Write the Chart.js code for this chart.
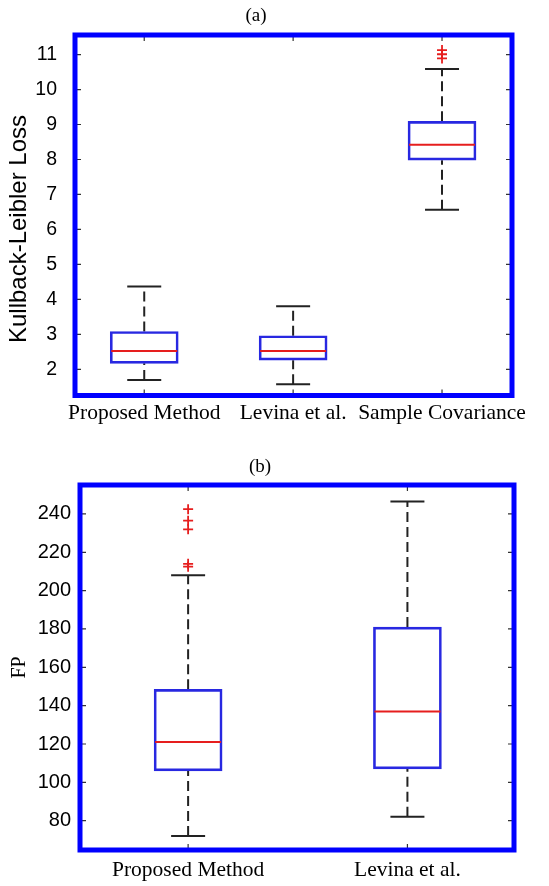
<!DOCTYPE html>
<html>
<head>
<meta charset="utf-8">
<script src="https://cdn.jsdelivr.net/npm/chart.js@4.4.1/dist/chart.umd.min.js"></script>
<style>
  body { margin: 0; background: #fff; }
  canvas { position: absolute; left: 0; }
</style>
</head>
<body>
<canvas id="chartA" width="549" height="440" style="top:0"></canvas>
<canvas id="chartB" width="549" height="446" style="top:440px"></canvas>
<script>
// (a) Kullback-Leibler loss
const klCategories = ['Proposed Method', 'Levina et al.', 'Sample Covariance'];
const klLow = [1.69, 1.57, 6.56];
const klQ1 = [2.17, 2.26, 7.98];
const klMedian = [2.52, 2.52, 8.42];
const klQ3 = [3.08, 2.96, 9.09];
const klHigh = [4.37, 3.80, 10.59];
const klOutliers = [[], [], [11.13, 11.01, 10.89]];
const klTicks = [2, 3, 4, 5, 6, 7, 8, 9, 10, 11];

// (b) false positives
const fpCategories = ['Proposed Method', 'Levina et al.'];
const fpLow = [72, 82];
const fpQ1 = [106, 107];
const fpMedian = [121, 137];
const fpQ3 = [148.5, 181];
const fpHigh = [208, 246.5];
const fpOutliers = [[242.5, 236.5, 232, 214, 212.5], []];
const fpTicks = [80, 100, 120, 140, 160, 180, 200, 220, 240];

const BOX_BLUE = 'rgb(40,40,225)';
const MED_RED = 'rgb(230,30,30)';
const WHISKER = '#222';

// frame, inner tick marks and y title, MATLAB style
const matlabFrame = {
    id: 'matlabFrame',
    afterDraw(chart, args, opts) {
        const {ctx, chartArea: a, scales} = chart;
        ctx.save();
        ctx.strokeStyle = '#333';
        ctx.lineWidth = 1.2;
        ctx.beginPath();
        scales.y.ticks.forEach(t => {
            const py = scales.y.getPixelForValue(t.value);
            ctx.moveTo(a.left, py); ctx.lineTo(a.left + 6, py);
            ctx.moveTo(a.right, py); ctx.lineTo(a.right - 6, py);
        });
        scales.x.ticks.forEach(t => {
            const px = scales.x.getPixelForValue(t.value);
            ctx.moveTo(px, a.top); ctx.lineTo(px, a.top + 6);
            ctx.moveTo(px, a.bottom); ctx.lineTo(px, a.bottom - 6);
        });
        ctx.stroke();

        ctx.strokeStyle = '#0000ff';
        ctx.lineWidth = 5;
        ctx.strokeRect(a.left, a.top, a.width, a.height);

        ctx.translate(opts.titleX, (a.top + a.bottom) / 2 + opts.titleShift);
        ctx.rotate(-Math.PI / 2);
        ctx.font = opts.font;
        ctx.fillStyle = '#000';
        ctx.textAlign = 'center';
        ctx.textBaseline = 'middle';
        ctx.fillText(opts.title, 0, 0);
        ctx.restore();
    }
};

function boxDatasets(low, q1, med, q3, high, outliers) {
    const ds = [];
    ds.push({
        type: 'bar',
        data: q1.map((v, i) => ({x: i + 1, y: [v, q3[i]]})),
        backgroundColor: 'rgba(0,0,0,0)',
        borderColor: BOX_BLUE,
        borderWidth: 2,
        borderSkipped: false,
        barThickness: 68,
        order: 1
    });
    q1.forEach((v, i) => {
        const whisker = {
            type: 'scatter',
            showLine: true,
            borderColor: WHISKER,
            borderWidth: 2,
            borderDash: [10, 5],
            pointRadius: 0,
            order: 2
        };
        ds.push(Object.assign({}, whisker, {data: [{x: i + 1, y: q3[i]}, {x: i + 1, y: high[i]}]}));
        ds.push(Object.assign({}, whisker, {data: [{x: i + 1, y: low[i]}, {x: i + 1, y: v}]}));
    });
    ds.push({
        type: 'scatter',
        data: high.map((v, i) => ({x: i + 1, y: v})).concat(low.map((v, i) => ({x: i + 1, y: v}))),
        pointStyle: 'line',
        pointRadius: 17,
        pointBorderColor: WHISKER,
        pointBorderWidth: 2,
        order: 0
    });
    ds.push({
        type: 'scatter',
        data: med.map((v, i) => ({x: i + 1, y: v})),
        pointStyle: 'line',
        pointRadius: 33,
        pointBorderColor: MED_RED,
        pointBorderWidth: 2,
        order: 0
    });
    ds.push({
        type: 'scatter',
        data: outliers.flatMap((arr, i) => arr.map(v => ({x: i + 1, y: v}))),
        pointStyle: 'cross',
        pointRadius: 5,
        pointBorderColor: MED_RED,
        pointBorderWidth: 1.8,
        order: 0
    });
    return ds;
}

function makeBoxChart(id, s) {
    const ctx = document.getElementById(id).getContext('2d');
    return new Chart(ctx, {
        type: 'scatter',
        data: {datasets: boxDatasets(s.low, s.q1, s.med, s.q3, s.high, s.outliers)},
        plugins: [matlabFrame],
        options: {
            responsive: false,
            animation: false,
            events: [],
            layout: {padding: {left: 0, right: s.padRight, top: 0, bottom: 0}},
            plugins: {
                legend: {display: false},
                tooltip: {enabled: false},
                title: {
                    display: true,
                    text: s.title,
                    color: '#000',
                    font: {family: 'Liberation Serif', size: 19, weight: 'normal'},
                    padding: s.titlePad
                },
                matlabFrame: s.frame
            },
            scales: {
                x: {
                    type: 'linear',
                    offset: false,
                    min: s.xMin,
                    max: s.xMax,
                    grid: {display: false, drawTicks: false, offset: false},
                    border: {display: false},
                    afterBuildTicks: scale => { scale.ticks = s.categories.map((c, i) => ({value: i + 1})); },
                    afterFit: scale => { scale.height = s.xHeight; },
                    ticks: {
                        autoSkip: false,
                        maxRotation: 0,
                        padding: s.xPad,
                        color: '#000',
                        font: {family: 'Liberation Serif', size: 21.5},
                        callback: v => s.categories[Math.round(v) - 1]
                    }
                },
                y: {
                    type: 'linear',
                    min: s.yMin,
                    max: s.yMax,
                    grid: {display: false, drawTicks: false},
                    border: {display: false},
                    afterBuildTicks: scale => { scale.ticks = s.ticks.map(v => ({value: v})); },
                    afterFit: scale => { scale.width = s.yWidth; },
                    ticks: {
                        padding: s.yPad,
                        color: '#000',
                        font: {family: 'Liberation Sans', size: s.tickSize}
                    }
                }
            }
        }
    });
}

makeBoxChart('chartA', {
    title: '(a)', titlePad: {top: 1.6, bottom: 7.6},
    categories: klCategories, ticks: klTicks,
    low: klLow, q1: klQ1, med: klMedian, q3: klQ3, high: klHigh, outliers: klOutliers,
    xMin: 0.535, xMax: 3.47, yMin: 1.25, yMax: 11.56,
    padRight: 37, xHeight: 44.5, yWidth: 75, xPad: 5, yPad: 18, tickSize: 19.5,
    frame: {title: 'Kullback-Leibler Loss', titleX: 19, titleShift: 13.75, font: '24px "Liberation Sans"'}
});

makeBoxChart('chartB', {
    title: '(b)', titlePad: {top: 15.3, bottom: 6.9},
    categories: fpCategories, ticks: fpTicks,
    low: fpLow, q1: fpQ1, med: fpMedian, q3: fpQ3, high: fpHigh, outliers: fpOutliers,
    xMin: 0.507, xMax: 2.486, yMin: 64.7, yMax: 255.1,
    padRight: 29, xHeight: 36, yWidth: 80, xPad: 7.4, yPad: 9, tickSize: 20,
    frame: {title: 'FP', titleX: 20, titleShift: 0, font: '20px "Liberation Serif"'}
});
</script>
</body>
</html>
